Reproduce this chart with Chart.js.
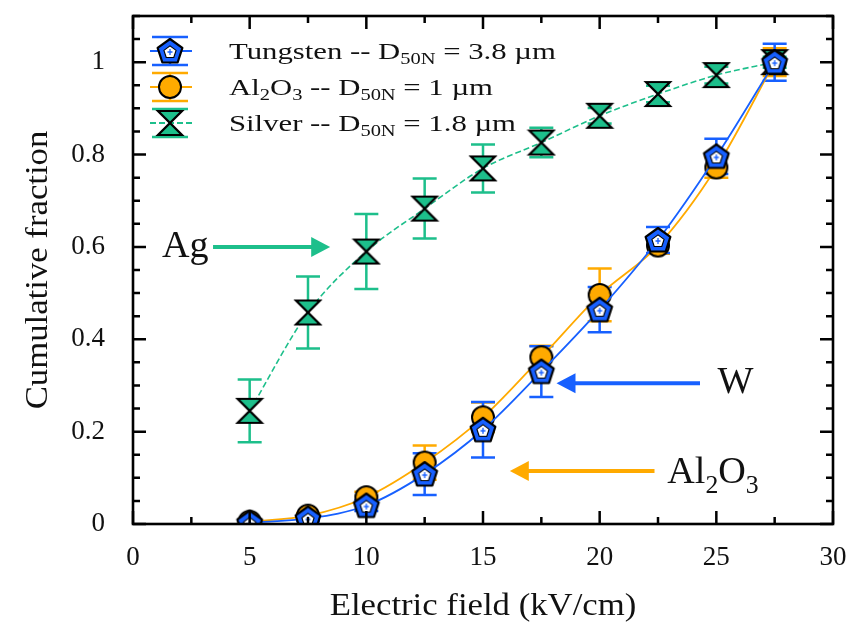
<!DOCTYPE html>
<html>
<head>
<meta charset="utf-8">
<script src="https://cdn.jsdelivr.net/npm/chart.js@4/dist/chart.umd.min.js"></script>
<style>
html,body{margin:0;padding:0;background:#fff;}
#wrap{width:855px;height:627px;position:relative;}
</style>
</head>
<body>
<div id="wrap"><canvas id="c" width="855" height="627"></canvas></div>
<script>
// ---- data ----
const fieldKV     = [5, 7.5, 10, 12.5, 15, 17.5, 20, 22.5, 25, 27.5];
const tungsten    = [0.003, 0.012, 0.040, 0.108, 0.204, 0.330, 0.464, 0.615, 0.796, 1.000];
const tungstenErr = [0.004, 0.006, 0.012, 0.045, 0.060, 0.055, 0.049, 0.028, 0.038, 0.040];
const alumina     = [0.005, 0.018, 0.058, 0.133, 0.231, 0.361, 0.496, 0.603, 0.772, 1.000];
const aluminaErr  = [0.004, 0.006, 0.012, 0.037, 0.032, 0.025, 0.057, 0.018, 0.022, 0.030];
const silver      = [0.245, 0.458, 0.590, 0.683, 0.770, 0.826, 0.884, 0.931, 0.972, 1.000];
const silverErr   = [0.068, 0.078, 0.081, 0.065, 0.052, 0.032, 0.017, 0.018, 0.018, 0.012];
const xTicks = [0, 5, 10, 15, 20, 25, 30];
const yTicks = [0, 0.2, 0.4, 0.6, 0.8, 1];
const xTitle = 'Electric field (kV/cm)';
const yTitle = 'Cumulative fraction';

// ---- styles ----
const FONT = '"Liberation Serif", "DejaVu Serif", serif';
const BLUE = '#1760ff', ORANGE = '#ffaa00', GREEN = '#1dbf8b';

function polyPath(ctx, cx, cy, r, n) {
  ctx.beginPath();
  for (let k = 0; k < n; k++) {
    const a = -Math.PI / 2 + k * 2 * Math.PI / n;
    const px = cx + r * Math.cos(a), py = cy + r * Math.sin(a);
    k ? ctx.lineTo(px, py) : ctx.moveTo(px, py);
  }
  ctx.closePath();
}
function makePentagon() {
  const c = document.createElement('canvas'); c.width = 32; c.height = 32;
  const g = c.getContext('2d');
  polyPath(g, 16, 17, 13, 5);
  g.fillStyle = BLUE; g.fill();
  g.lineWidth = 2.2; g.strokeStyle = '#000'; g.lineJoin = 'round'; g.stroke();
  polyPath(g, 16, 17.3, 6.4, 5);
  g.fillStyle = '#fff'; g.fill();
  g.lineWidth = 1.1; g.strokeStyle = '#000'; g.stroke();
  g.strokeStyle = BLUE; g.lineWidth = 1.3;
  g.beginPath(); g.moveTo(16, 14); g.lineTo(16, 20); g.moveTo(13.5, 17); g.lineTo(18.5, 17); g.stroke();
  return c;
}
function makeCircle() {
  const c = document.createElement('canvas'); c.width = 28; c.height = 28;
  const g = c.getContext('2d');
  g.beginPath(); g.arc(14, 14, 11, 0, Math.PI * 2);
  g.fillStyle = ORANGE; g.fill();
  g.lineWidth = 2; g.strokeStyle = '#000'; g.stroke();
  return c;
}
function makeHourglass() {
  const c = document.createElement('canvas'); c.width = 30; c.height = 30;
  const g = c.getContext('2d');
  g.beginPath();
  g.moveTo(3, 3); g.lineTo(27, 3); g.lineTo(3, 27); g.lineTo(27, 27); g.closePath();
  g.fillStyle = GREEN; g.fill();
  g.lineWidth = 2.2; g.strokeStyle = '#000'; g.lineJoin = 'miter'; g.stroke();
  return c;
}
const pentImg = makePentagon(), circImg = makeCircle(), hourImg = makeHourglass();

const errSets = [tungstenErr, aluminaErr, silverErr];
const seriesColors = [BLUE, ORANGE, GREEN];

// annotations placed in data units
const notes = [
  {text: [['Ag', 0]], tx: 1.24, ty: 0.578, from: 3.43, to: 8.45, ay: 0.600, color: GREEN},
  {text: [['W', 0]], tx: 25.05, ty: 0.284, from: 24.3, to: 18.15, ay: 0.305, color: BLUE},
  {text: [['Al', 0], ['2', 1], ['O', 0], ['3', 1]], tx: 22.9, ty: 0.089, from: 22.35, to: 16.15, ay: 0.115, color: ORANGE}
];
const legendRows = [
  {img: pentImg, color: BLUE, dash: [], segs: [['Tungsten -- D', 0], ['50N', 1], [' = 3.8 µm', 0]]},
  {img: circImg, color: ORANGE, dash: [], segs: [['Al', 0], ['2', 1], ['O', 0], ['3', 1], [' -- D', 0], ['50N', 1], [' = 1 µm', 0]]},
  {img: hourImg, color: GREEN, dash: [6, 3], segs: [['Silver -- D', 0], ['50N', 1], [' = 1.8 µm', 0]]}
];

// draws text segments (normal / subscript) with optional horizontal stretch
function richText(ctx, segs, x, y, size, subSize, subDrop, hs) {
  ctx.save();
  ctx.translate(x, y);
  ctx.scale(hs || 1, 1);
  let cx = 0;
  for (const [t, sub] of segs) {
    ctx.font = (sub ? subSize : size) + 'px ' + FONT;
    ctx.fillText(t, cx, sub ? subDrop : 0);
    cx += ctx.measureText(t).width;
  }
  ctx.restore();
}

const framePlugin = {
  id: 'frame',
  beforeDatasetsDraw(chart) {
    const {ctx, chartArea: a, scales: {x, y}} = chart;
    ctx.save();
    ctx.beginPath(); ctx.rect(a.left, a.top, a.right - a.left, a.bottom - a.top); ctx.clip();
    for (let d = chart.data.datasets.length - 1; d >= 0; d--) {
      const vals = chart.data.datasets[d].data, err = errSets[d];
      ctx.strokeStyle = seriesColors[d]; ctx.lineWidth = 2.5;
      vals.forEach((p, i) => {
        const px = x.getPixelForValue(p.x);
        const y1 = y.getPixelForValue(p.y + err[i]), y2 = y.getPixelForValue(p.y - err[i]);
        ctx.beginPath();
        ctx.moveTo(px, y1); ctx.lineTo(px, y2);
        ctx.moveTo(px - 12, y1); ctx.lineTo(px + 12, y1);
        ctx.moveTo(px - 12, y2); ctx.lineTo(px + 12, y2);
        ctx.stroke();
      });
    }
    ctx.restore();
  },
  afterDraw(chart) {
    const {ctx, chartArea: a, scales: {x, y}} = chart;
    ctx.save();
    // ticks on all four sides, pointing inward
    ctx.strokeStyle = '#000'; ctx.lineWidth = 2.5;
    ctx.beginPath();
    for (let v = 0; v <= 30 + 1e-9; v += 2.5) {
      const px = x.getPixelForValue(v);
      const len = (Math.abs(v % 5) < 1e-9) ? 13 : 7;
      ctx.moveTo(px, a.bottom); ctx.lineTo(px, a.bottom - len);
      ctx.moveTo(px, a.top); ctx.lineTo(px, a.top + len);
    }
    for (let k = 0; k <= 22; k++) {
      const v = k * 0.05;
      const py = y.getPixelForValue(v);
      const len = (k % 4 === 0) ? 13 : 7;
      ctx.moveTo(a.left, py); ctx.lineTo(a.left + len, py);
      ctx.moveTo(a.right, py); ctx.lineTo(a.right - len, py);
    }
    ctx.stroke();
    ctx.lineWidth = 2.6;
    ctx.strokeRect(a.left, a.top, a.right - a.left, a.bottom - a.top);

    // axis titles
    ctx.fillStyle = '#111';
    ctx.textBaseline = 'alphabetic';
    ctx.textAlign = 'left';
    ctx.font = '31px ' + FONT;
    const hsT = 1.12;
    const wx = ctx.measureText(xTitle).width * hsT;
    richText(ctx, [[xTitle, 0]], (a.left + a.right) / 2 - wx / 2, 615, 31, 20, 6, hsT);
    const wy = ctx.measureText(yTitle).width * hsT;
    ctx.save();
    ctx.translate(47, (a.top + a.bottom) / 2);
    ctx.rotate(-Math.PI / 2);
    richText(ctx, [[yTitle, 0]], -wy / 2, 0, 31, 20, 6, hsT);
    ctx.restore();

    // legend
    const rowY = [51, 87, 123];
    legendRows.forEach((r, i) => {
      const cy = rowY[i], cx = a.left + 37;
      ctx.strokeStyle = r.color; ctx.lineWidth = 2.2;
      ctx.setLineDash(r.dash);
      ctx.beginPath(); ctx.moveTo(a.left + 17, cy); ctx.lineTo(a.left + 59, cy); ctx.stroke();
      ctx.setLineDash([]);
      ctx.lineWidth = 2.5;
      ctx.beginPath();
      ctx.moveTo(cx - 18, cy - 14); ctx.lineTo(cx + 18, cy - 14);
      ctx.moveTo(cx - 18, cy + 14); ctx.lineTo(cx + 18, cy + 14);
      ctx.moveTo(cx, cy - 14); ctx.lineTo(cx, cy + 14);
      ctx.stroke();
      ctx.drawImage(r.img, cx - r.img.width / 2, cy - r.img.height / 2);
      ctx.fillStyle = '#111';
      richText(ctx, r.segs, a.left + 96, cy + 8, 24, 16, 5, 1.28);
    });

    // annotations
    notes.forEach(n => {
      const x1 = x.getPixelForValue(n.from), x2 = x.getPixelForValue(n.to), ay = y.getPixelForValue(n.ay);
      const dir = Math.sign(x2 - x1);
      ctx.strokeStyle = n.color; ctx.fillStyle = n.color; ctx.lineWidth = 4;
      ctx.beginPath(); ctx.moveTo(x1, ay); ctx.lineTo(x2 - dir * 16, ay); ctx.stroke();
      ctx.beginPath(); ctx.moveTo(x2, ay); ctx.lineTo(x2 - dir * 19, ay - 10); ctx.lineTo(x2 - dir * 19, ay + 10); ctx.closePath(); ctx.fill();
      ctx.fillStyle = '#111';
      richText(ctx, n.text, x.getPixelForValue(n.tx), y.getPixelForValue(n.ty), 37, 25, 10, 1.03);
    });
    ctx.restore();
  }
};

const toPts = arr => fieldKV.map((v, i) => ({x: v, y: arr[i]}));

new Chart(document.getElementById('c'), {
  type: 'scatter',
  data: {
    datasets: [
      {label: 'Tungsten', data: toPts(tungsten), showLine: true, borderColor: BLUE, borderWidth: 1.8,
       pointStyle: pentImg, pointRadius: 13, cubicInterpolationMode: 'monotone'},
      {label: 'Al2O3', data: toPts(alumina), showLine: true, borderColor: ORANGE, borderWidth: 1.8,
       pointStyle: circImg, pointRadius: 11, cubicInterpolationMode: 'monotone'},
      {label: 'Silver', data: toPts(silver), showLine: true, borderColor: GREEN, borderWidth: 1.6, borderDash: [6, 3],
       pointStyle: hourImg, pointRadius: 13, cubicInterpolationMode: 'monotone'}
    ]
  },
  options: {
    responsive: false, animation: false, devicePixelRatio: 1,
    layout: {padding: {top: 16, right: 22, left: 0, bottom: 0}},
    plugins: {legend: {display: false}, tooltip: {enabled: false}},
    scales: {
      x: {
        type: 'linear', min: 0, max: 30,
        afterBuildTicks: s => { s.ticks = xTicks.map(v => ({value: v})); },
        afterFit: s => { s.height = 103; s.paddingLeft = 0; s.paddingRight = 0; },
        grid: {display: false}, border: {display: false},
        ticks: {color: '#111', font: {family: FONT, size: 27}, padding: 10, maxRotation: 0},
        title: {display: false}
      },
      y: {
        min: 0, max: 1.1,
        afterBuildTicks: s => { s.ticks = yTicks.map(v => ({value: v})); },
        afterFit: s => { s.width = 133; s.paddingTop = 0; s.paddingBottom = 0; },
        grid: {display: false}, border: {display: false},
        ticks: {color: '#111', font: {family: FONT, size: 27}, padding: 20,
                callback: v => String(Math.round(v * 10) / 10)},
        title: {display: false}
      }
    }
  },
  plugins: [framePlugin]
});
</script>
</body>
</html>
